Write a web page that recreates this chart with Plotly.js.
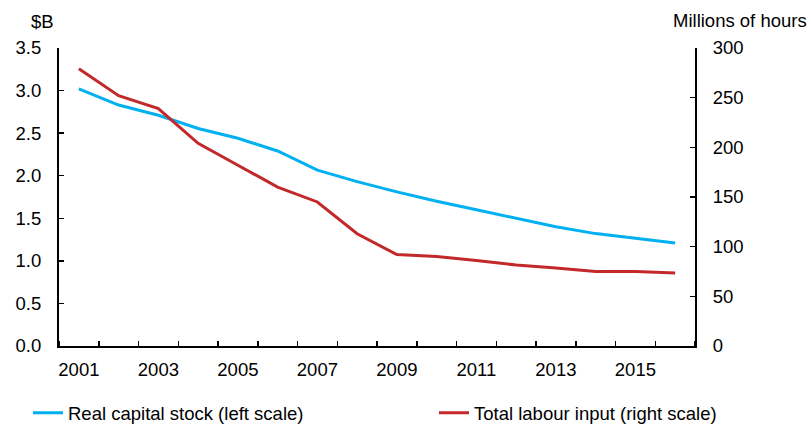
<!DOCTYPE html>
<html>
<head>
<meta charset="utf-8">
<script src="https://cdn.plot.ly/plotly-3.0.1.min.js"></script>
<style>html,body{margin:0;padding:0;background:#fff;}#chart{width:811px;height:424px;}</style>
</head>
<body>
<div id="chart"></div>
<script>
var years = [2001, 2002, 2003, 2004, 2005, 2006, 2007, 2008, 2009, 2010, 2011, 2012, 2013, 2014, 2015, 2016];
var capitalStock = [3.02, 2.83, 2.71, 2.555, 2.44, 2.29, 2.065, 1.93, 1.81, 1.70, 1.60, 1.50, 1.40, 1.32, 1.265, 1.21];
var labourInput = [279, 252, 239, 204, 182, 160, 145, 113, 92, 90, 86, 81.5, 78.5, 75, 75, 73.5];
var xTickVals = [2001, 2003, 2005, 2007, 2009, 2011, 2013, 2015];
var xTickText = ['2001', '2003', '2005', '2007', '2009', '2011', '2013', '2015'];
var seriesNames = ['Real capital stock (left scale)', 'Total labour input (right scale)'];

var font = {family: 'Liberation Sans, Arial, sans-serif', size: 18.5, color: '#000'};

var traces = [
  {x: years, y: capitalStock, name: seriesNames[0], type: 'scatter', mode: 'lines',
   line: {color: '#00B0F0', width: 3}, yaxis: 'y', legend: 'legend'},
  {x: years, y: labourInput, name: seriesNames[1], type: 'scatter', mode: 'lines',
   line: {color: '#C3282A', width: 3}, yaxis: 'y2', legend: 'legend2'}
];

var legendBase = {orientation: 'h', xref: 'container', yref: 'container', y: 0.07,
  xanchor: 'left', yanchor: 'top', font: font, bgcolor: 'rgba(0,0,0,0)'};

var layout = {
  width: 811, height: 424,
  margin: {l: 59, r: 116, t: 48, b: 78, pad: 0},
  paper_bgcolor: '#fff', plot_bgcolor: '#fff',
  font: font,
  showlegend: true,
  legend: Object.assign({}, legendBase, {x: 28 / 811}),
  legend2: Object.assign({}, legendBase, {x: 434 / 811}),
  xaxis: {
    type: 'linear', range: [2000.5, 2016.5], fixedrange: true,
    tickmode: 'array', tickvals: xTickVals, ticktext: xTickText, ticks: '',
    showline: true, linecolor: '#000', linewidth: 2, showgrid: false, zeroline: false,
    ticklabelstandoff: 6,
    minor: {tick0: 2000.5, dtick: 1, ticks: 'inside', ticklen: 5, tickcolor: '#000', tickwidth: 1.5, showgrid: false}
  },
  yaxis: {
    range: [0, 3.5], dtick: 0.5, tick0: 0, tickformat: '.1f', ticks: 'inside', ticklen: 5,
    tickcolor: '#000', tickwidth: 1.5,
    showline: true, linecolor: '#000', linewidth: 2, showgrid: false, zeroline: false,
    ticklabelstandoff: 12
  },
  yaxis2: {
    overlaying: 'y', side: 'right', range: [0, 300], dtick: 50, tick0: 0, ticks: 'inside', ticklen: 5,
    tickcolor: '#000', tickwidth: 1.5,
    showline: true, linecolor: '#000', linewidth: 2, showgrid: false, zeroline: false,
    ticklabelstandoff: 12
  },
  annotations: [
    {text: '$B', xref: 'paper', yref: 'paper', x: -0.036, xshift: 6, y: 1.0, yshift: 27, xanchor: 'center', yanchor: 'middle', showarrow: false, font: font},
    {text: 'Millions of hours', xref: 'paper', yref: 'paper', x: 1, xshift: 114, y: 1.0, yshift: 28, xanchor: 'right', yanchor: 'middle', showarrow: false, font: font}
  ]
};

Plotly.newPlot('chart', traces, layout, {displayModeBar: false, staticPlot: true});
</script>
</body>
</html>
